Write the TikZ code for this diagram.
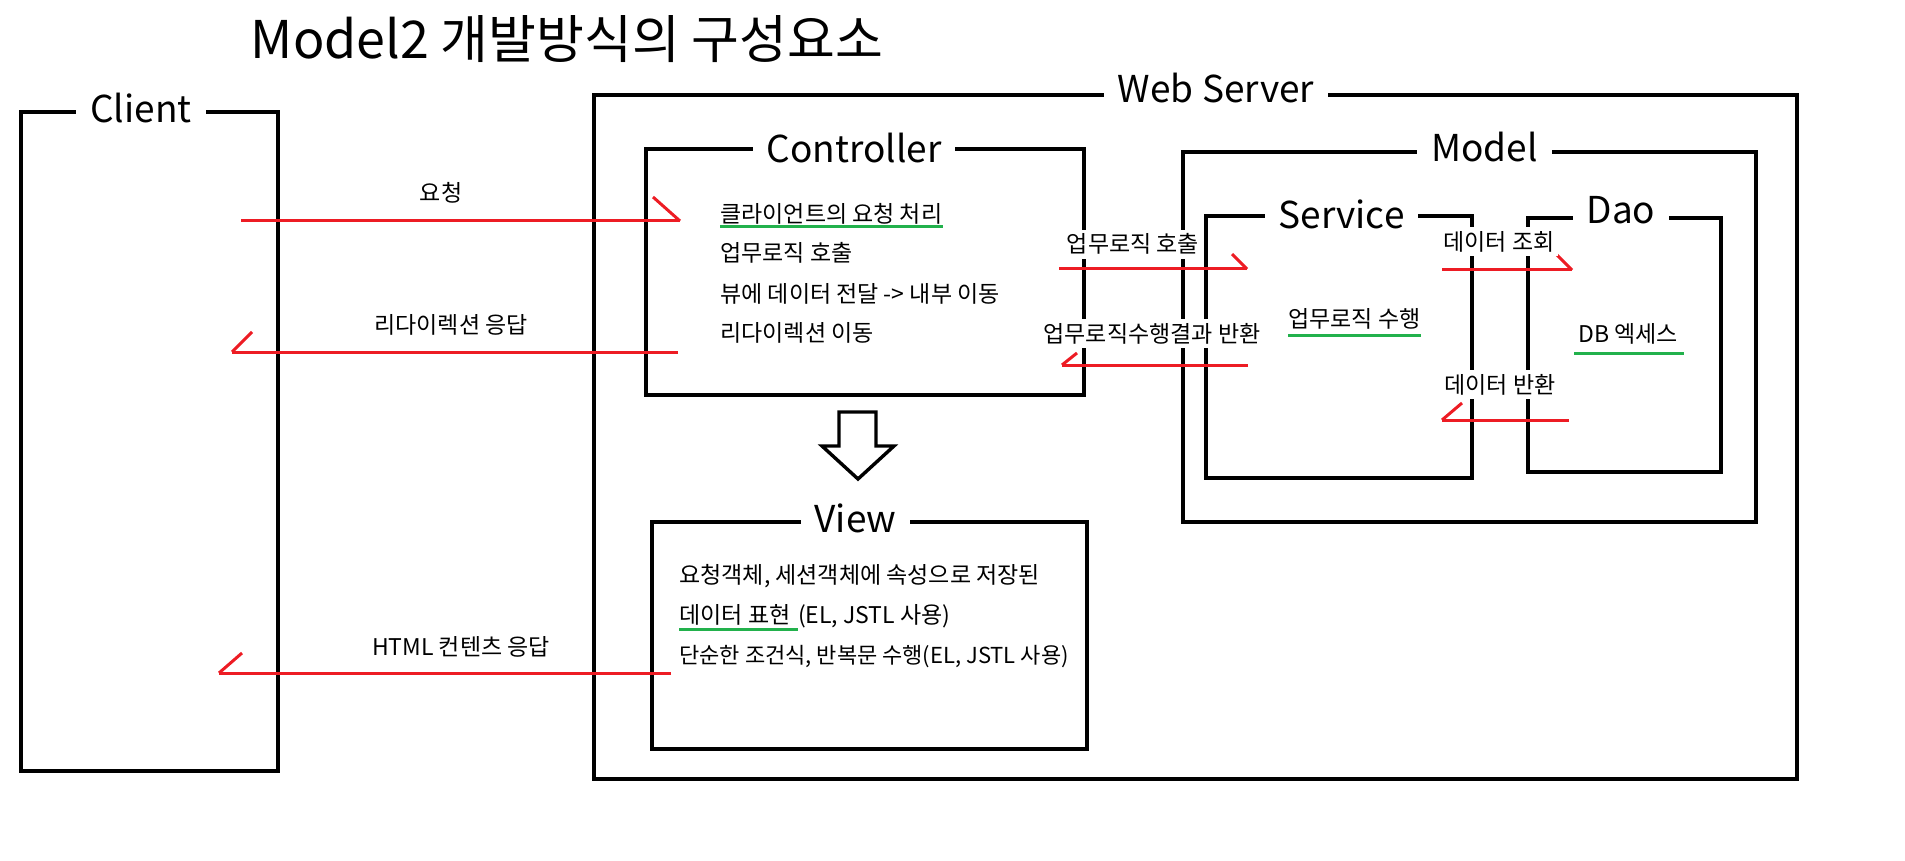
\documentclass[tikz,border=0pt]{standalone}
\usepackage{fontspec}
\setmainfont{Noto Sans CJK KR}
\usetikzlibrary{fit}
\definecolor{myred}{HTML}{ED1C24}
\definecolor{mygreen}{HTML}{22B14C}
\newcommand\bodysize{\fontsize{11.5pt}{13pt}\selectfont}
\newcommand\boxsize{\fontsize{18.5pt}{22pt}\selectfont}
\newcommand\titlesize{\fontsize{26pt}{30pt}\selectfont}
\begin{document}
\begin{tikzpicture}[x=0.5pt,y=-0.5pt,
  boxframe/.style={draw=black, line width=1.9pt, inner sep=0pt},
  frametitle/.style={fill=white, font=\boxsize, inner xsep=7pt, inner ysep=1pt, anchor=base},
  redline/.style={draw=myred, line width=1.5pt},
  greenline/.style={draw=mygreen, line width=1.5pt},
  bodytext/.style={font=\bodysize, inner sep=0pt, anchor=base west},
  arrowlabel/.style={font=\bodysize, fill=white, inner xsep=2pt, inner ysep=2pt, anchor=base},
  hollowarrow/.style={draw=black, line width=1.7pt, line join=miter, fill=white}]
\useasboundingbox (0,0) rectangle (1905,861);
% title
\node[font=\titlesize, anchor=base, inner sep=0pt] (title) at (567,59) {Model2 개발방식의 구성요소};
% frames
\node[boxframe, fit={(21,112)(278,771)}] (client) {};
\node[boxframe, fit={(594,95)(1797,779)}] (web) {};
\node[boxframe, fit={(646,149)(1084,395)}] (ctrl) {};
\node[boxframe, fit={(1183,152)(1756,522)}] (model) {};
\node[boxframe, fit={(1206,216)(1472,478)}] (service) {};
\node[boxframe, fit={(1528,218)(1721,472)}] (dao) {};
\node[boxframe, fit={(652,522)(1087,749)}] (view) {};
% hollow arrow controller -> view
\draw[hollowarrow] (839,412) -- (876,412) -- (876,446) -- (894,446) -- (858,479) -- (822,446) -- (839,446) -- cycle;
% red connectors
\coordinate (r1s) at (241,221); \coordinate (r1e) at (680,221);
\coordinate (r2s) at (678,352); \coordinate (r2e) at (232,352);
\coordinate (r3s) at (671,673); \coordinate (r3e) at (219,673);
\coordinate (r4s) at (1059,269); \coordinate (r4e) at (1247,269);
\coordinate (r5s) at (1248,365); \coordinate (r5e) at (1062,365);
\coordinate (r6s) at (1442,270); \coordinate (r6e) at (1572,270);
\coordinate (r7s) at (1569,420); \coordinate (r7e) at (1442,420);
\draw[redline] (r1s) -- (r1e); \draw[redline] (r1e) -- ++(-27,-24);
\draw[redline] (r2s) -- (r2e); \draw[redline] (r2e) -- ++(20,-20);
\draw[redline] (r3s) -- (r3e); \draw[redline] (r3e) -- ++(23,-20);
\draw[redline] (r4s) -- (r4e); \draw[redline] (r4e) -- ++(-15,-15);
\draw[redline] (r5s) -- (r5e); \draw[redline] (r5e) -- ++(15,-12);
\draw[redline] (r6s) -- (r6e); \draw[redline] (r6e) -- ++(-15,-15);
\draw[redline] (r7s) -- (r7e); \draw[redline] (r7e) -- ++(20,-17);
% arrow labels
\node[arrowlabel] (l1) at (441,202) {요청};
\node[arrowlabel] (l2) at (451,333) {리다이렉션 응답};
\node[arrowlabel] (l3) at (461,655) {HTML 컨텐츠 응답};
\node[arrowlabel] (l4) at (1133,253) {업무로직 호출};
\node[arrowlabel] (l5) at (1152,342) {업무로직수행결과 반환};
\node[arrowlabel] (l6) at (1499,250) {데이터 조회};
\node[arrowlabel] (l7) at (1500,393) {데이터 반환};
% frame titles
\node[frametitle] (clientT) at (141,123) {Client};
\node[frametitle] (webT) at (1216,103) {Web Server};
\node[frametitle] (ctrlT) at (854,163) {Controller};
\node[frametitle] (modelT) at (1484.5,162) {Model};
\node[frametitle] (serviceT) at (1341.5,228) {Service};
\node[frametitle] (daoT) at (1621,224) {Dao};
\node[frametitle] (viewT) at (855.5,532) {View};
% controller text
\node[bodytext] (c1) at (720,223) {클라이언트의 요청 처리};
\node[bodytext] (c2) at (720,262) {업무로직 호출};
\node[bodytext] (c3) at (720,302) {뷰에 데이터 전달 -> 내부 이동};
\node[bodytext] (c4) at (720,341) {리다이렉션 이동};
\draw[greenline] ([yshift=-2pt]c1.base west) -- ([yshift=-2pt]c1.base east);
% service text
\node[bodytext] (s1) at (1288,328) {업무로직 수행};
\draw[greenline] ([yshift=-3.5pt]s1.base west) -- ([yshift=-3.5pt]s1.base east);
% dao text
\node[bodytext] (d1) at (1578,343) {DB 엑세스};
\draw[greenline] ([xshift=-2pt,yshift=-5pt]d1.base west) -- ([xshift=3pt,yshift=-5pt]d1.base east);
% view text
\node[bodytext] (v1) at (679,583) {요청객체, 세션객체에 속성으로 저장된};
\node[bodytext] (v2a) at (679,623) {데이터 표현\kern0.3em};
\node[bodytext] (v2b) at (v2a.base east) {(EL, JSTL 사용)};
\node[bodytext, font=\fontsize{11pt}{13pt}\selectfont] (v3) at (679,663) {단순한 조건식, 반복문 수행(EL, JSTL 사용)};
\draw[greenline] ([yshift=-3pt]v2a.base west) -- ([yshift=-3pt]v2a.base east);
\end{tikzpicture}
\end{document}
